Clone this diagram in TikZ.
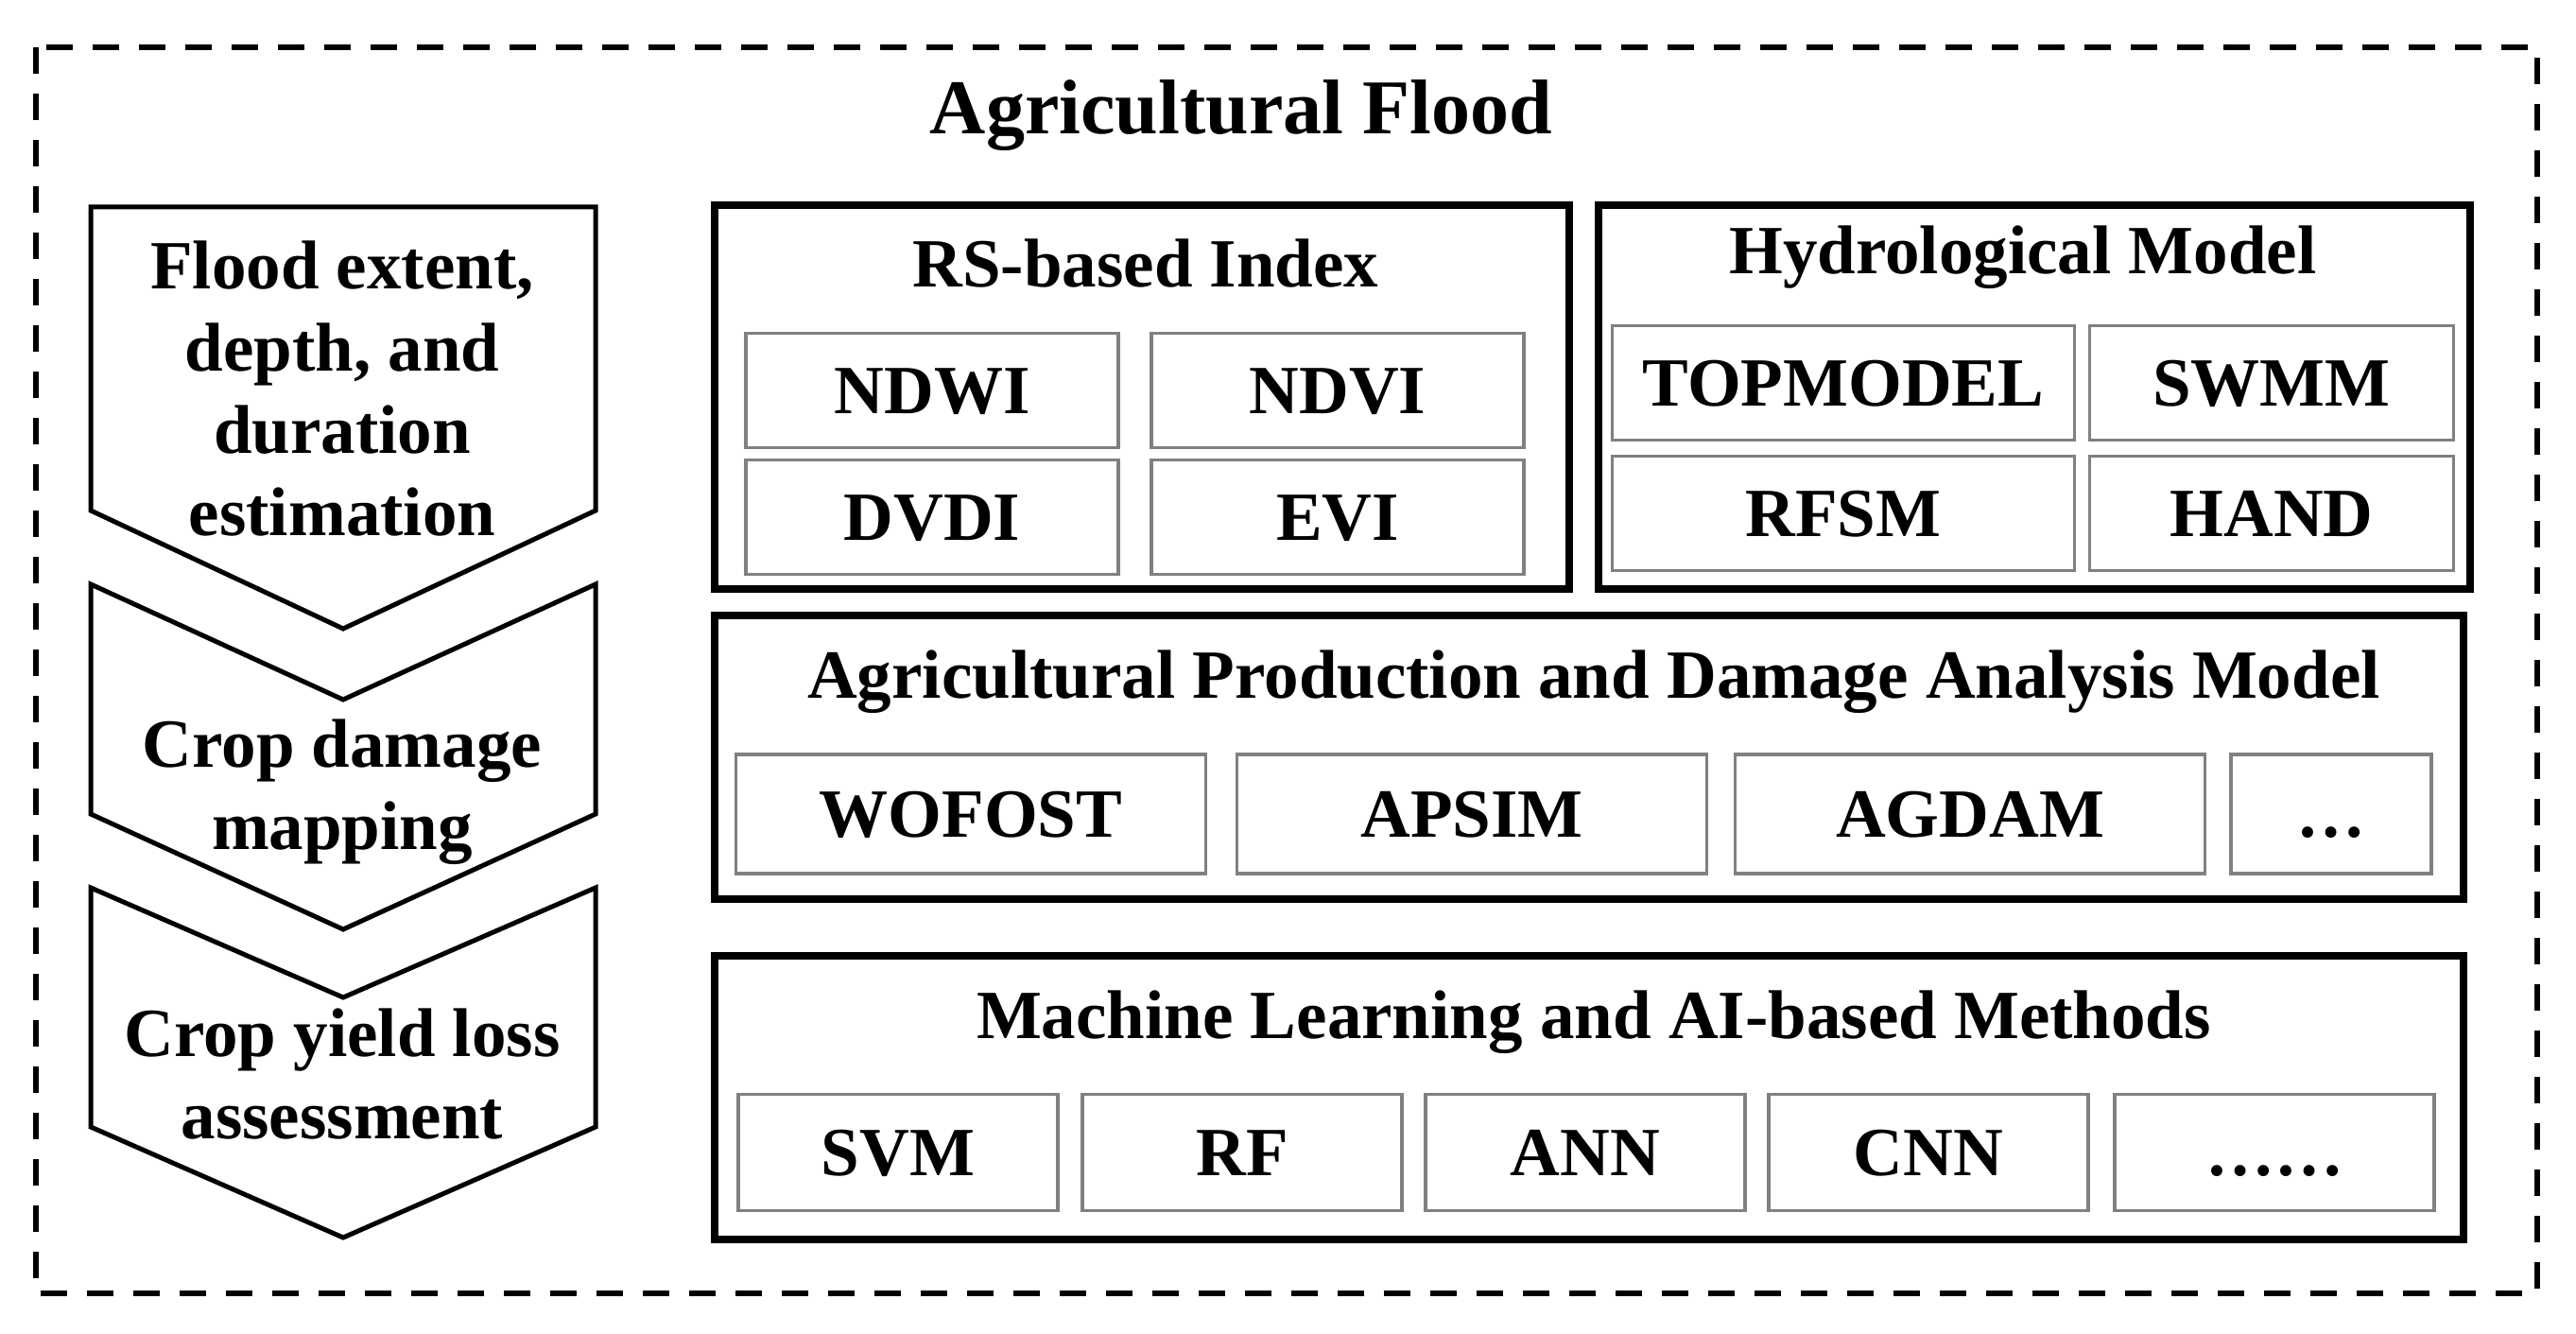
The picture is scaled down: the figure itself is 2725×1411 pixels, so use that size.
\documentclass[tikz,border=0pt]{standalone}
\usepackage{fontspec}
\setmainfont{Liberation Serif}
\definecolor{boxgray}{RGB}{128,128,128}
\newcommand{\bodyfont}{\fontsize{21.9}{26.1}\selectfont\bfseries}
\newcommand{\headfont}{\fontsize{24.6}{29}\selectfont\bfseries}
\tikzset{every picture/.style={line width=0.75pt}}
\tikzset{
  grpbox/.style={draw=black, line width=2.25pt, inner sep=0pt},
  itembox/.style={draw=boxgray, line width=1.1pt, inner sep=0pt, text height=14.5pt, text depth=0pt, font=\bodyfont},
  grptitle/.style={anchor=base, inner sep=0pt, font=\bodyfont},
  chevron/.style={draw=black, line width=1.5pt, line join=miter},
  chevtext/.style={anchor=center, inner sep=0pt, align=center, font=\bodyfont}
}

\begin{document}
\begin{tikzpicture}[x=0.3pt,y=0.3pt,yscale=-1,xscale=1]
\useasboundingbox (0,0) rectangle (2725,1411);

%Shape: Dashed Frame
\draw [line width=1.9pt, dash pattern=on 8.4pt off 6.3pt] (38,50) rectangle (2684,1368) ;
% Text Node
\node (title) [anchor=base, inner sep=0pt, font=\headfont] at (1313,142) {Agricultural Flood};

%Flowchart: Chevron 1
\draw [chevron] (96,219) -- (630,219) -- (630,540) -- (363,665) -- (96,540) -- cycle ;
%Flowchart: Chevron 2
\draw [chevron] (96,618) -- (363,740) -- (630,618) -- (630,861) -- (363,983) -- (96,861) -- cycle ;
%Flowchart: Chevron 3
\draw [chevron] (96,939) -- (363,1055) -- (630,939) -- (630,1192) -- (363,1309) -- (96,1192) -- cycle ;
% Text Node
\node (extent) [chevtext] at (362,411) {Flood extent,\\depth, and\\duration\\estimation};
% Text Node
\node (damage) [chevtext] at (362,838) {Crop damage\\mapping};
% Text Node
\node (yield) [chevtext] at (362,1136) {Crop yield loss\\assessment};

%Flowchart: Process [RS-based Index]
\node (rs) [grpbox, minimum width=271.2pt, minimum height=121.8pt] at (1208,420) {};
\node (rstitle) [grptitle] at (1212,304) {RS-based Index};
\node (ndwi) [itembox, minimum width=118.2pt, minimum height=36.3pt] at (986,413) {NDWI};
\node (ndvi) [itembox, minimum width=118.2pt, minimum height=36.3pt] at (1415,413) {NDVI};
\node (dvdi) [itembox, minimum width=118.2pt, minimum height=36.3pt] at (986,547) {DVDI};
\node (evi) [itembox, minimum width=118.2pt, minimum height=36.3pt] at (1415,547) {EVI};

%Flowchart: Process [Hydrological Model]
\node (hyd) [grpbox, minimum width=276.6pt, minimum height=121.8pt] at (2152,420) {};
\node (hydtitle) [grptitle] at (2140,290) {Hydrological Model};
\node (topmodel) [itembox, minimum width=146.7pt, minimum height=36.3pt] at (1950,405) {TOPMODEL};
\node (swmm) [itembox, minimum width=115.5pt, minimum height=36.3pt] at (2403,405) {SWMM};
\node (rfsm) [itembox, minimum width=146.7pt, minimum height=36.3pt] at (1950,543) {RFSM};
\node (hand) [itembox, minimum width=115.5pt, minimum height=36.3pt] at (2403,543) {HAND};

%Flowchart: Process [Agricultural Production]
\node (agri) [grpbox, minimum width=555pt, minimum height=90pt] at (1681,801) {};
\node (agrititle) [grptitle] at (1686,738) {Agricultural Production and Damage Analysis Model};
\node (wofost) [itembox, minimum width=149.1pt, minimum height=37.8pt] at (1027,861) {WOFOST};
\node (apsim) [itembox, minimum width=149.1pt, minimum height=37.8pt] at (1557,861) {APSIM};
\node (agdam) [itembox, minimum width=149.1pt, minimum height=37.8pt] at (2084,861) {AGDAM};
\node (agdots) [itembox, minimum width=63.6pt, minimum height=37.8pt] at (2466,861) {…};

%Flowchart: Process [Machine Learning]
\node (ml) [grpbox, minimum width=555pt, minimum height=90pt] at (1681,1161) {};
\node (mltitle) [grptitle] at (1686,1098) {Machine Learning and AI-based Methods};
\node (svm) [itembox, minimum width=101.4pt, minimum height=36.9pt] at (950,1219) {SVM};
\node (rf) [itembox, minimum width=101.4pt, minimum height=36.9pt] at (1314,1219) {RF};
\node (ann) [itembox, minimum width=101.4pt, minimum height=36.9pt] at (1677,1219) {ANN};
\node (cnn) [itembox, minimum width=101.4pt, minimum height=36.9pt] at (2040,1219) {CNN};
\node (mldots) [itembox, minimum width=101.4pt, minimum height=36.9pt] at (2406,1219) {……};

\end{tikzpicture}
\end{document}
